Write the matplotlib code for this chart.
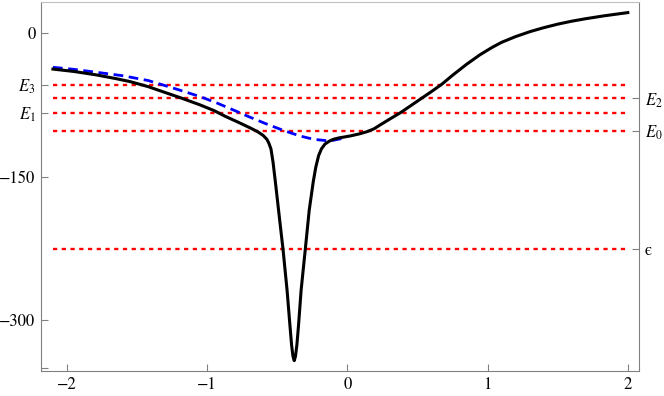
import matplotlib
matplotlib.use("Agg")
import matplotlib.pyplot as plt

# potential curve (black)
pot_x = [-2.1, -1.95, -1.79, -1.65, -1.55, -1.42, -1.3, -1.2, -1.05, -0.95,
         -0.87, -0.78, -0.694, -0.64, -0.6, -0.574, -0.56, -0.545, -0.53,
         -0.51, -0.487, -0.459, -0.43, -0.41, -0.398, -0.388, -0.379,
         -0.37, -0.36, -0.348, -0.33, -0.30, -0.272, -0.243, -0.225, -0.205,
         -0.185, -0.16, -0.13, -0.1, -0.06, -0.02, 0.019, 0.08, 0.14, 0.19,
         0.233, 0.3, 0.38, 0.45, 0.53, 0.6, 0.673, 0.75, 0.85, 0.946, 1.03,
         1.1, 1.2, 1.303, 1.4, 1.5, 1.6, 1.7, 1.83, 1.92, 2.0]
pot_y = [-37.5, -40, -43.6, -47.5, -50.6, -55.9, -62, -67, -75, -81,
         -87, -93, -99, -103, -107, -111, -115, -121, -135,
         -160, -190, -226, -269, -305, -326, -338, -342.6,
         -338, -326, -305, -269, -226, -185, -155, -140, -128,
         -121, -116, -113, -111, -109.5, -108.5, -107.5, -105.5, -103, -100,
         -96, -90, -83, -76, -68, -61, -53.4, -44, -32.5, -22.5, -15,
         -9.5, -3.5, 1.7, 5.8, 9.5, 12.6, 15.2, 18.2, 20, 21.6]

# smooth approximation (blue dashed)
appr_x = [-2.1, -1.95, -1.79, -1.6, -1.42, -1.25, -1.05, -0.93, -0.813,
          -0.7, -0.576, -0.45, -0.338, -0.24, -0.148, -0.1, -0.053, -0.02]
appr_y = [-35.6, -37.8, -40.8, -44.5, -49.5, -57, -66.3, -73, -80.3,
          -87.5, -95, -102, -107.5, -111, -112.4, -112, -110.6, -109.5]

# energy levels
levels = [-102, -83, -68, -54]
level_names = ["$E_0$", "$E_1$", "$E_2$", "$E_3$"]
eps = -226

plt.rcParams['font.family'] = ['STIXGeneral', 'DejaVu Serif']
plt.rcParams['mathtext.fontset'] = 'stix'
plt.rcParams['font.size'] = 12

fig = plt.figure(figsize=(6.64, 3.96), dpi=100)
ax = fig.add_axes([41 / 664, 25 / 396, 598.3 / 664, 369.3 / 396])

for e in levels + [eps]:
    ax.plot([-2.1, 2.0], [e, e], color='red', lw=1.7, dashes=(1.8, 1.9))

ax.plot(appr_x, appr_y, color='blue', lw=2.0, dashes=(3.5, 2.0))
ax.plot(pot_x, pot_y, color='black', lw=2.2, solid_joinstyle='round')

ax.set_xlim(-2.185, 2.082)
ax.set_ylim(-353.4, 33)

gray = '#808080'
for side in ['left', 'bottom', 'right']:
    ax.spines[side].set_color(gray)
ax.spines['top'].set_color('#c0c0c0')

ax.set_xticks([-2, -1, 0, 1, 2])
ax.set_xticklabels(['\u22122', '\u22121', '0', '1', '2'])
ax.set_yticks([0, -150, -300, -350, levels[3], levels[1]])
ax.set_yticklabels(['0', '\u2212150', '\u2212300', '', level_names[3], level_names[1]])
ax.tick_params(direction='in', length=5, color=gray, width=0.8, pad=4)

ax2 = ax.twinx()
ax2.set_ylim(ax.get_ylim())
ax2.set_yticks([levels[2], levels[0], eps])
ax2.set_yticklabels([level_names[2], level_names[0], '\u03f5'])
ax2.tick_params(direction='in', length=5, color=gray, width=0.8, pad=4)
for s in ax2.spines.values():
    s.set_visible(False)

fig.savefig("out.png", dpi=100)
